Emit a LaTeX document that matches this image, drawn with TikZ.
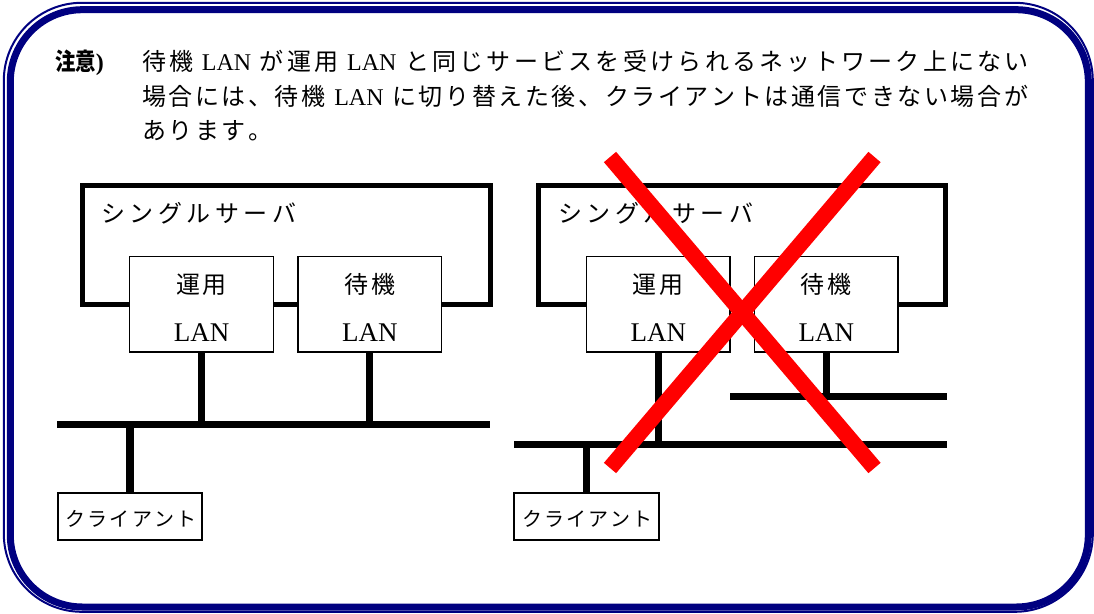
\documentclass[tikz,border=0pt]{standalone}
\usepackage{fontspec}
\usepackage{graphicx}
\setmainfont{Liberation Serif}
\newfontfamily\jp{Noto Sans CJK JP}
\definecolor{navyb}{RGB}{0,0,128}
\newdimen\lsp
\def\jsp#1{\jspA#1\relax}
\def\jspA#1{#1\jspB}
\def\jspB#1{\ifx#1\relax\else\kern\lsp#1\expandafter\jspB\fi}
\newcommand\jt[2]{{\lsp=#1\jp\jsp{#2}}}
\newcommand\gp{\kern6.5pt}
\tikzset{
 srv/.style={draw, line width=3.75pt, minimum width=305.5pt, minimum height=89.4pt, inner sep=0pt, outer sep=0pt},
 lanbox/.style={draw, fill=white, line width=1.1pt, minimum width=107.85pt, minimum height=71.5pt, inner sep=0pt, outer sep=0pt},
 clbox/.style={draw, fill=white, line width=1.5pt, minimum width=108.3pt, minimum height=35.25pt, inner sep=0pt, outer sep=0pt},
 bus/.style={line width=5.5pt},
 redx/.style={draw=red, line width=12pt},
 txt/.style={inner sep=0pt, outer sep=0pt},
 mtxt/.style={txt, anchor=base west, font=\fontsize{18pt}{22pt}\selectfont},
 boxj/.style={txt, font=\fontsize{18pt}{22pt}\selectfont},
 boxl/.style={txt, font=\fontsize{20.25pt}{24pt}\selectfont},
 clt/.style={txt, font=\fontsize{15pt}{18pt}\selectfont},
}
\begin{document}
\begin{tikzpicture}[x=0.75pt,y=-0.75pt]
\useasboundingbox (0,0) rectangle (1094,613);
% frame
\draw[navyb, line width=1.5pt, rounded corners=58.5pt] (3.8,2.8) rectangle (1092.8,611.8);
\draw[navyb, line width=5.25pt, rounded corners=54pt] (10.3,9.7) rectangle (1088.3,607);

% note text
\node[mtxt] (note) at (55,71) {\scalebox{0.85}[1]{\jp\bfseries 注意}\textbf{)}};
\node[mtxt] (l1) at (142,71) {\jt{2.45pt}{待機}\gp LAN\gp\jt{2.45pt}{が運用}\gp LAN\gp\jt{2.45pt}{と同じサービスを受けられるネットワーク上にない}};
\node[mtxt] (l2) at (142,106) {\jt{1.95pt}{場合には、待機}\gp LAN\gp\jt{1.95pt}{に切り替えた後、クライアントは通信できない場合が}};
\node[mtxt] (l3) at (142,140) {\jt{1.95pt}{あります。}};

% ---------- left diagram ----------
\node[srv] (srvL) at (286.6,245.1) {};
\coordinate (b1w) at (57,424.5);
\coordinate (b1e) at (490,424.5);
\draw[bus] (b1w) -- (b1e);
\node[lanbox] (u1) at (201.6,304.4) {};
\node[lanbox] (s1) at (369.8,304.4) {};
\draw[bus] (u1.south) -- (u1.south |- b1w);
\draw[bus] (s1.south) -- (s1.south |- b1w);
\node[clbox] (cl1) at (130,516.2) {};
\draw[bus] (cl1.north) -- (cl1.north |- b1w);
\node[boxj, anchor=west] (srvLt) at (101,213) {\jt{3.4pt}{シングルサーバ}};
\node[boxj] (u1a) at (201.6,284.5) {\jt{2pt}{運用}};
\node[boxl] (u1b) at (201.6,333) {LAN};
\node[boxj] (s1a) at (369.8,284.5) {\jt{2pt}{待機}};
\node[boxl] (s1b) at (369.8,333) {LAN};
\node[clt] (cl1t) at (131,519) {\jt{1.6pt}{クライアント}};

% ---------- right diagram ----------
\node[srv] (srvR) at (742,245.1) {};
\coordinate (b2w) at (730,396.7);
\coordinate (b2e) at (947,396.7);
\coordinate (b3w) at (514,444.5);
\coordinate (b3e) at (947,444.5);
\draw[bus] (b2w) -- (b2e);
\draw[bus] (b3w) -- (b3e);
\node[lanbox] (u2) at (658.3,304.4) {};
\node[lanbox] (s2) at (826.3,304.4) {};
\draw[bus] (u2.south) -- (u2.south |- b3w);
\draw[bus] (s2.south) -- (s2.south |- b2w);
\node[clbox] (cl2) at (586.5,516.2) {};
\draw[bus] (cl2.north) -- (cl2.north |- b3w);
\node[boxj, anchor=west] (srvRt) at (558,213) {\jt{3.4pt}{シングルサーバ}};
\node[boxj] (u2a) at (658.3,284.5) {\jt{2pt}{運用}};
\node[boxl] (u2b) at (658.3,333) {LAN};
\node[boxj] (s2a) at (826.3,284.5) {\jt{2pt}{待機}};
\node[boxl] (s2b) at (826.3,333) {LAN};
\node[clt] (cl2t) at (587.5,519) {\jt{1.6pt}{クライアント}};

% red cross
\coordinate (x1) at (610,157);
\coordinate (x2) at (874.5,468);
\coordinate (x3) at (874.5,157);
\coordinate (x4) at (610,468);
\draw[redx] (x1) -- (x2);
\draw[redx] (x3) -- (x4);
\end{tikzpicture}
\end{document}
